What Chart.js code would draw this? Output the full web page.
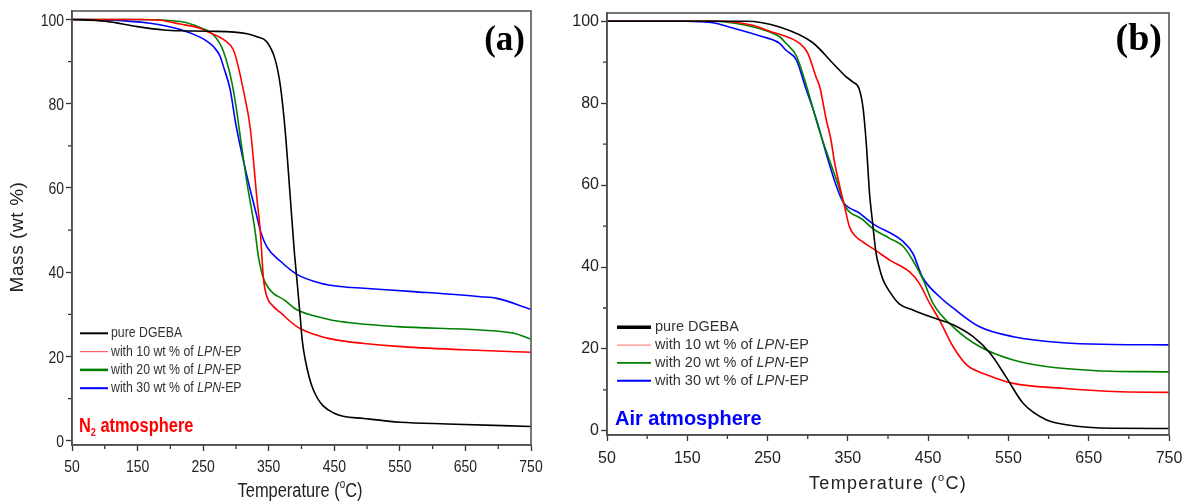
<!DOCTYPE html>
<html lang="en">
<head>
<meta charset="UTF-8">
<title>TGA curves</title>
<script src="https://cdn.jsdelivr.net/npm/chart.js@4.4.1/dist/chart.umd.min.js"></script>
<style>
  body { margin: 0; background: #fff; width: 1196px; height: 504px; overflow: hidden; position: relative; }
  canvas { position: absolute; top: 0; }
  #chartA { left: 0; }
  #chartB { left: 545px; }
</style>
</head>
<body>
<canvas id="chartA" width="545" height="504"></canvas>
<canvas id="chartB" width="651" height="504"></canvas>
<script>
// axis ticks
const xTicks = [50, 150, 250, 350, 450, 550, 650, 750];
const xMinor = [100, 200, 300, 400, 500, 600, 700];
const yTicks = [0, 20, 40, 60, 80, 100];
const yMinor = [10, 30, 50, 70, 90];

const seriesLabels = ['pure DGEBA', 'with 10 wt % of LPN-EP', 'with 20 wt % of LPN-EP', 'with 30 wt % of LPN-EP'];
const seriesColors = ['#000000', '#ff0000', '#008000', '#0000ff'];

// (a) N2 atmosphere
const tempPureN2 = [50, 100, 150, 190, 215, 260, 317, 332, 347, 360, 368, 375, 383, 389, 394, 398, 401, 406, 418, 449, 495, 551, 622, 750];
const massPureN2 = [100, 99.6, 98.3, 97.5, 97.3, 97.2, 96.6, 95.9, 94.7, 90.4, 84, 73.8, 57.5, 45, 36.5, 29.5, 24, 19, 12.1, 6.6, 5.3, 4.4, 4.0, 3.4];
const temp10N2 = [50, 150, 185, 215, 245, 256, 283, 296, 301, 311, 322, 332, 337, 342, 347, 357, 368, 393, 420, 450, 495, 546, 647, 750];
const mass10N2 = [100, 100, 99.8, 98.9, 97.9, 97.1, 95, 92.8, 90.4, 83.5, 74, 57.5, 50, 38.5, 34.3, 31.9, 30.4, 27.1, 25.2, 24.0, 23.1, 22.4, 21.6, 21.0];
const temp20N2 = [50, 150, 215, 245, 266, 281, 294, 301, 305, 317, 329, 334, 342, 350, 357, 373, 393, 434, 459, 546, 673, 724, 750];
const mass20N2 = [100, 100, 99.5, 98.1, 96.3, 92.4, 84.9, 78.5, 74, 61.1, 50, 44, 38.5, 36.2, 35, 33.5, 31.1, 29.1, 28.3, 27.1, 26.3, 25.5, 24.1];
const temp30N2 = [50, 100, 169, 215, 245, 256, 266, 276, 281, 291, 300, 317, 332, 337, 347, 368, 393, 429, 459, 495, 571, 673, 698, 750];
const mass30N2 = [100, 99.9, 99.1, 97.6, 95.8, 94.8, 93.5, 91.2, 88.8, 83.5, 75, 62.7, 53.2, 50, 46.1, 42.6, 39.5, 37.4, 36.6, 36.2, 35.4, 34.2, 33.8, 31.2];

// (b) air atmosphere
const tempPureAir = [50, 150, 223, 265, 306, 331, 348, 356, 364, 369, 373, 377, 381, 385, 389, 394, 402, 414, 431, 452, 481, 506, 527, 547, 568, 597, 622, 680, 750];
const massPureAir = [100, 100, 100, 98.6, 94.8, 89.8, 86.4, 85.2, 83.5, 78.7, 70, 58, 50.5, 43.5, 40, 36.8, 34, 31, 29.5, 27.9, 25.9, 23, 19, 13.2, 6.8, 2.7, 1.5, 0.65, 0.6];
const temp10Air = [50, 190, 231, 256, 265, 290, 298, 302, 311, 315, 323, 329, 333, 344, 346, 352, 360, 365, 385, 402, 427, 439, 452, 464, 481, 498, 523, 556, 618, 680, 750];
const mass10Air = [100, 100, 99, 97.3, 96.8, 94.6, 92.9, 91.3, 86, 84, 76, 71, 66, 56.3, 54.7, 49.8, 47.4, 46.6, 44, 41.7, 38.8, 36, 31.1, 27.1, 20.6, 16.1, 13.7, 11.6, 10.4, 9.6, 9.4];
const temp20Air = [50, 182, 223, 252, 265, 273, 286, 298, 315, 327, 340, 344, 369, 381, 402, 419, 431, 444, 456, 481, 514, 556, 597, 660, 750];
const mass20Air = [100, 100, 99, 97.4, 96.2, 94.6, 91.5, 84.5, 73, 66.1, 58.8, 55.9, 51.5, 49.4, 47, 45, 41.6, 36.8, 31.1, 25.4, 20.6, 17.3, 15.7, 14.7, 14.4];
const temp30Air = [50, 150, 165, 182, 202, 244, 265, 273, 286, 297, 311, 323, 336, 344, 365, 381, 419, 431, 443, 464, 481, 514, 556, 618, 680, 750];
const mass30Air = [100, 100, 99.9, 99.6, 98.6, 96.2, 94.6, 92.9, 90.5, 84, 75.9, 67.7, 59.6, 55.9, 53.1, 50.6, 46.2, 43.3, 37.5, 32.8, 30, 25.4, 23, 21.5, 21.1, 21];

const FAM = '"Liberation Sans", Arial, sans-serif';
const AXIS = '#333333';

// text squeezed horizontally by sx (panel a uses a narrow face)
function squeezeText(ctx, text, x, y, sx) {
  ctx.save();
  ctx.translate(x, y);
  ctx.scale(sx, 1);
  ctx.fillText(text, 0, 0);
  ctx.restore();
  return ctx.measureText(text).width * sx;
}

function drawLegend(ctx, p) {
  const L = p.legend;
  seriesLabels.forEach((lab, i) => {
    const y = L.y0 + i * L.dy;
    ctx.strokeStyle = i === 1 ? L.redSample : seriesColors[i];
    ctx.lineWidth = L.widths[i];
    ctx.beginPath(); ctx.moveTo(L.x0, y); ctx.lineTo(L.x1, y); ctx.stroke();
    ctx.fillStyle = '#333';
    ctx.textBaseline = 'middle';
    ctx.textAlign = 'left';
    let x = L.tx;
    const parts = lab.split('LPN');
    parts.forEach((part, k) => {
      ctx.font = L.size + 'px ' + FAM;
      x += squeezeText(ctx, part, x, y, p.sx);
      if (k < parts.length - 1) {
        ctx.font = 'italic ' + L.size + 'px ' + FAM;
        x += squeezeText(ctx, 'LPN', x, y, p.sx);
      }
    });
  });
}

function drawTempTitle(ctx, t, sx) {
  ctx.fillStyle = '#222';
  ctx.textBaseline = 'alphabetic';
  ctx.textAlign = 'left';
  ctx.letterSpacing = t.spacing + 'px';
  const big = t.size + 'px ' + FAM, small = Math.round(t.size * 0.62) + 'px ' + FAM;
  ctx.font = big;
  const w1 = ctx.measureText('Temperature (').width * sx, w3 = ctx.measureText('C)').width * sx;
  ctx.font = small;
  const w2 = ctx.measureText('o').width * sx;
  let x = t.cx - (w1 + w2 + w3) / 2;
  ctx.font = big; squeezeText(ctx, 'Temperature (', x, t.y, sx); x += w1;
  ctx.font = small; squeezeText(ctx, 'o', x, t.y - t.size * 0.45, sx); x += w2;
  ctx.font = big; squeezeText(ctx, 'C)', x, t.y, sx);
  ctx.letterSpacing = '0px';
}

function decor(p) {
  return {
    id: 'decor',
    afterDraw(chart) {
      const ctx = chart.ctx, a = chart.chartArea;
      const xs = chart.scales.x, ys = chart.scales.y;
      ctx.save();
      ctx.strokeStyle = AXIS;
      ctx.lineWidth = 1.3;
      ctx.beginPath();
      xMinor.forEach(v => { const px = xs.getPixelForValue(v); ctx.moveTo(px, a.bottom); ctx.lineTo(px, a.bottom + 4); });
      yMinor.forEach(v => { const py = ys.getPixelForValue(v); ctx.moveTo(a.left - 4, py); ctx.lineTo(a.left, py); });
      ctx.stroke();
      ctx.strokeStyle = '#555';
      ctx.lineWidth = 1.6;
      ctx.strokeRect(a.left, a.top, a.right - a.left, a.bottom - a.top);

      // narrow tick labels for panel (a)
      if (p.ownTicks) {
        ctx.fillStyle = '#222';
        ctx.font = p.ownTicks.size + 'px ' + FAM;
        ctx.textBaseline = 'alphabetic';
        ctx.textAlign = 'center';
        xTicks.forEach(v => squeezeText(ctx, String(v), xs.getPixelForValue(v), a.bottom + p.ownTicks.xOff, p.sx));
        ctx.textAlign = 'right';
        yTicks.forEach(v => squeezeText(ctx, String(v), a.left - 8, ys.getPixelForValue(v) + p.ownTicks.size * 0.36, p.sx));
      }

      drawLegend(ctx, p);

      // atmosphere note
      const at = p.atmos;
      ctx.fillStyle = at.color;
      ctx.textAlign = 'left';
      ctx.textBaseline = 'alphabetic';
      ctx.font = 'bold ' + at.size + 'px ' + FAM;
      let x = at.x;
      x += squeezeText(ctx, at.text, x, at.y, p.sx);
      if (at.sub) {
        ctx.font = 'bold ' + Math.round(at.size * 0.55) + 'px ' + FAM;
        x += squeezeText(ctx, at.sub, x, at.y + at.size * 0.22, p.sx);
        ctx.font = 'bold ' + at.size + 'px ' + FAM;
        squeezeText(ctx, at.rest, x, at.y, p.sx);
      }

      // panel tag
      ctx.fillStyle = '#000';
      ctx.textAlign = 'right';
      ctx.font = 'bold ' + p.tag.size + 'px "Liberation Serif", "Times New Roman", serif';
      ctx.fillText(p.tag.text, p.tag.x, p.tag.y);

      drawTempTitle(ctx, p.xTitle, p.sx);

      if (p.yTitle) {
        ctx.save();
        ctx.translate(p.yTitle.cx, p.yTitle.cy);
        ctx.rotate(-Math.PI / 2);
        ctx.fillStyle = '#222';
        ctx.textAlign = 'center';
        ctx.textBaseline = 'middle';
        ctx.letterSpacing = p.yTitle.spacing + 'px';
        ctx.font = p.yTitle.size + 'px ' + FAM;
        ctx.fillText('Mass (wt %)', 0, 0);
        ctx.restore();
      }
      ctx.restore();
    }
  };
}

function buildChart(id, series, p) {
  return new Chart(document.getElementById(id), {
    type: 'line',
    data: {
      datasets: series.map((s, i) => ({
        label: seriesLabels[i],
        data: s[0].map((t, k) => ({ x: t, y: s[1][k] })),
        borderColor: seriesColors[i],
        borderWidth: p.lineWidth,
        pointRadius: 0,
        cubicInterpolationMode: 'monotone',
        fill: false
      }))
    },
    options: {
      responsive: false,
      animation: false,
      layout: { padding: p.padding },
      plugins: { legend: { display: false }, tooltip: { enabled: false } },
      scales: {
        x: {
          type: 'linear', min: 50, max: 750,
          afterBuildTicks: sc => { sc.ticks = xTicks.map(v => ({ value: v })); },
          afterFit: sc => { sc.height = p.xAxisHeight; },
          grid: { drawOnChartArea: false, drawTicks: true, tickLength: 6, tickColor: AXIS, tickWidth: 1.3 },
          border: { display: true, color: AXIS, width: 1.6 },
          ticks: { display: !p.ownTicks, font: p.tickFont, color: '#222', padding: p.xPad, maxRotation: 0, autoSkip: false }
        },
        y: {
          type: 'linear', min: -1, max: 102,
          afterBuildTicks: sc => { sc.ticks = yTicks.map(v => ({ value: v })); },
          afterFit: sc => { sc.width = p.yAxisWidth; },
          grid: { drawOnChartArea: false, drawTicks: true, tickLength: 6, tickColor: AXIS, tickWidth: 1.3 },
          border: { display: true, color: AXIS, width: 1.6 },
          ticks: { display: !p.ownTicks, font: p.tickFont, color: '#222', padding: 2, autoSkip: false }
        }
      }
    },
    plugins: [decor(p)]
  });
}

buildChart('chartA', [[tempPureN2, massPureN2], [temp10N2, mass10N2], [temp20N2, mass20N2], [temp30N2, mass30N2]], {
  padding: { top: 11, right: 14, left: 0, bottom: 0 },
  yAxisWidth: 72, xAxisHeight: 59, xPad: 6, lineWidth: 1.6, sx: 0.82,
  tickFont: { family: FAM, size: 15 },
  ownTicks: { size: 17, xOff: 27 },
  legend: { x0: 80, x1: 108, tx: 111, y0: 333.3, dy: 18.3, size: 15, widths: [2, 1.2, 2.6, 2], redSample: '#ff6060' },
  atmos: { text: 'N', sub: '2', rest: ' atmosphere', color: '#ff0000', x: 79, y: 432, size: 20 },
  tag: { text: '(a)', x: 525, y: 50, size: 35 },
  xTitle: { cx: 300, y: 497, size: 20, spacing: 0 },
  yTitle: { cx: 18, cy: 237, size: 19, spacing: 0.6 }
});

buildChart('chartB', [[tempPureAir, massPureAir], [temp10Air, mass10Air], [temp20Air, mass20Air], [temp30Air, mass30Air]], {
  padding: { top: 13, right: 27, left: 0, bottom: 0 },
  yAxisWidth: 62, xAxisHeight: 69, xPad: 8, lineWidth: 1.6, sx: 1,
  tickFont: { family: FAM, size: 16 },
  ownTicks: null,
  legend: { x0: 72, x1: 106, tx: 110, y0: 327.3, dy: 17.8, size: 14.5, widths: [3.5, 1, 1.6, 2], redSample: '#ff7070' },
  atmos: { text: 'Air atmosphere', color: '#0000ff', x: 70, y: 425, size: 20 },
  tag: { text: '(b)', x: 617, y: 50, size: 38 },
  xTitle: { cx: 343, y: 489, size: 18, spacing: 1.3 },
  yTitle: null
});
</script>
</body>
</html>
